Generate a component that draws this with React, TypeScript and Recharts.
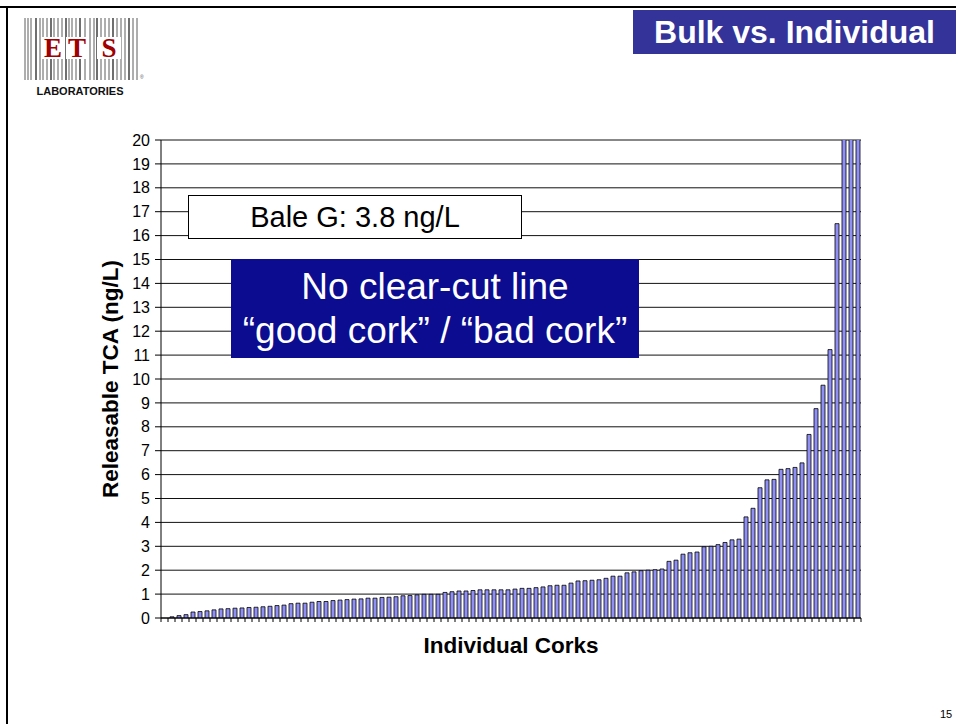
import { BarChart, Bar, XAxis, YAxis, CartesianGrid } from 'recharts';

// releasable TCA per cork, sorted ascending (ng/L); last three run off the top of the scale
const corkValues = [
    0, 0.05, 0.1, 0.14, 0.25, 0.27, 0.3, 0.34, 0.38, 0.39,
    0.41, 0.42, 0.44, 0.45, 0.47, 0.49, 0.52, 0.54, 0.6, 0.62,
    0.62, 0.66, 0.69, 0.69, 0.73, 0.75, 0.77, 0.79, 0.8, 0.83,
    0.83, 0.86, 0.87, 0.89, 0.93, 0.94, 0.97, 0.99, 0.99, 0.99,
    1.07, 1.1, 1.13, 1.13, 1.15, 1.18, 1.18, 1.18, 1.18, 1.18,
    1.21, 1.24, 1.24, 1.27, 1.3, 1.35, 1.37, 1.37, 1.46, 1.55,
    1.56, 1.58, 1.6, 1.66, 1.75, 1.75, 1.89, 1.93, 1.98, 2.0,
    2.02, 2.05, 2.37, 2.42, 2.67, 2.73, 2.76, 2.98, 3.0, 3.07,
    3.16, 3.27, 3.3, 4.23, 4.59, 5.45, 5.78, 5.8, 6.22, 6.25,
    6.3, 6.49, 7.68, 8.76, 9.74, 11.23, 16.5, 24, 30, 40,
];
const corkIds = corkValues.map((_, i) => `C${i + 1}`);
const yTicks = [0, 1, 2, 3, 4, 5, 6, 7, 8, 9, 10, 11, 12, 13, 14, 15, 16, 17, 18, 19, 20];

const data = corkIds.map((id, i) => ({ id, tca: corkValues[i] }));

const FONT = '"Liberation Sans", Arial, Helvetica, sans-serif';
const STEP = 7; // width of one category band in px (700px plot / 100 corks)

// ticks sit between the bars, not under them
const BoundaryTick = (props: any) => {
    const { x, y, index } = props;
    const last = index === corkIds.length - 1;
    return (
        <g>
            <line x1={x - STEP / 2} x2={x - STEP / 2} y1={y} y2={y + 4} stroke="#000" />
            {last && <line x1={x + STEP / 2} x2={x + STEP / 2} y1={y} y2={y + 4} stroke="#000" />}
        </g>
    );
};

const Logo = () => {
    const lines = [25, 28, 31, 36, 40, 43, 47, 51, 54, 58, 62, 66, 69, 72, 76, 80, 85, 90, 94, 97, 101, 105, 109, 113, 117, 121, 125, 129, 133, 137];
    return (
        <svg width={160} height={110} style={{ position: 'absolute', left: 0, top: 0 }}>
            {lines.map((lx, i) => (
                <line key={i} x1={lx} x2={lx} y1={18} y2={80} stroke="#333" strokeWidth={i % 4 === 3 ? 1.4 : 0.8} />
            ))}
            <rect x={41} y={37} width={24} height={22} fill="#fff" />
            <rect x={66} y={37} width={22} height={22} fill="#fff" />
            <rect x={97} y={37} width={24} height={22} fill="#fff" />
            <text x={53} y={57} textAnchor="middle" fontFamily="'Liberation Serif', serif" fontWeight="bold" fontSize={27} fill="#a00000">E</text>
            <text x={77} y={57} textAnchor="middle" fontFamily="'Liberation Serif', serif" fontWeight="bold" fontSize={27} fill="#a00000">T</text>
            <text x={109} y={57} textAnchor="middle" fontFamily="'Liberation Serif', serif" fontWeight="bold" fontSize={27} fill="#a00000">S</text>
            <text x={140} y={79} fontFamily={FONT} fontSize={5} fill="#555">®</text>
            <text x={80} y={95} textAnchor="middle" fontFamily={FONT} fontWeight="bold" fontSize={11} fill="#111">LABORATORIES</text>
        </svg>
    );
};

export default function App() {
    return (
        <div style={{ position: 'absolute', left: 0, top: 0, width: 956, height: 724, background: '#fff', fontFamily: FONT, overflow: 'hidden' }}>
            {/* slide frame */}
            <div style={{ position: 'absolute', left: 0, top: 6, width: 956, height: 2, background: '#000' }} />
            <div style={{ position: 'absolute', left: 6, top: 6, width: 2, height: 718, background: '#000' }} />
            <Logo />
            <div style={{
                position: 'absolute', left: 633, top: 10, width: 323, height: 44, background: '#333399',
                color: '#fff', fontWeight: 'bold', fontSize: 32, lineHeight: '44px', textAlign: 'center',
            }}>
                Bulk vs. Individual
            </div>

            <div style={{ position: 'absolute', left: 0, top: 0 }}>
                <BarChart
                    width={956}
                    height={724}
                    data={data}
                    margin={{ top: 140, right: 95, left: 100, bottom: 76 }}
                    barCategoryGap={0}
                >
                    <CartesianGrid vertical={false} stroke="#111" strokeWidth={1} />
                    <XAxis
                        dataKey="id"
                        height={30}
                        interval={0}
                        axisLine={{ stroke: '#000' }}
                        tickLine={false}
                        tickSize={0}
                        tickMargin={0}
                        tick={<BoundaryTick />}
                    />
                    <YAxis
                        width={61}
                        domain={[0, 20]}
                        ticks={yTicks}
                        interval={0}
                        allowDataOverflow
                        axisLine={{ stroke: '#000' }}
                        tickLine={{ stroke: '#000' }}
                        tickSize={6}
                        tickMargin={5}
                        tick={{ fill: '#000', fontSize: 16, fontFamily: FONT }}
                    />
                    <Bar
                        dataKey="tca"
                        fill="#8f8ff5"
                        stroke="#000"
                        strokeWidth={0.8}
                        barSize={4}
                        isAnimationActive={false}
                    />
                </BarChart>
            </div>

            {/* axis titles */}
            <div style={{
                position: 'absolute', left: 111, top: 379, transform: 'translate(-50%, -50%) rotate(-90deg)',
                whiteSpace: 'nowrap', fontWeight: 'bold', fontSize: 22.5, color: '#000',
            }}>
                Releasable TCA (ng/L)
            </div>
            <div style={{
                position: 'absolute', left: 511, top: 646, transform: 'translate(-50%, -50%)',
                whiteSpace: 'nowrap', fontWeight: 'bold', fontSize: 22.5, color: '#000',
            }}>
                Individual Corks
            </div>

            {/* annotations */}
            <div style={{
                position: 'absolute', left: 188, top: 195, width: 332, height: 42, background: '#fff',
                border: '1px solid #000', fontSize: 29, lineHeight: '42px', textAlign: 'center', color: '#000',
            }}>
                Bale G: 3.8 ng/L
            </div>
            <div style={{
                position: 'absolute', left: 231, top: 259, width: 408, height: 99, background: '#0c0c90',
                fontSize: 37, lineHeight: '44px', textAlign: 'center', color: '#fff', paddingTop: 6, boxSizing: 'border-box',
            }}>
                No clear-cut line<br />“good cork” / “bad cork”
            </div>

            <div style={{ position: 'absolute', left: 940, top: 708, fontSize: 11, color: '#000' }}>15</div>
        </div>
    );
}
